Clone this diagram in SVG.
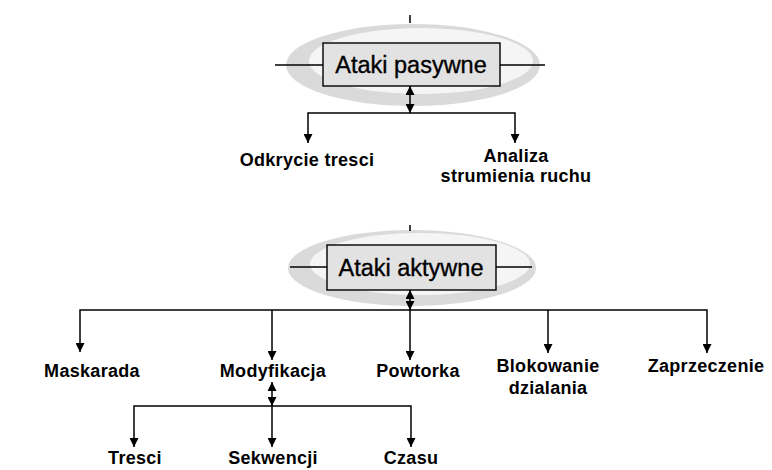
<svg xmlns="http://www.w3.org/2000/svg" width="772" height="470" viewBox="0 0 772 470">
<style>
.ring{fill:#dadada}
.ringin{fill:#f5f5f5}
.box{fill:#e2e2e2;stroke:#000;stroke-width:1.4}
.title{font-family:"Liberation Sans",Arial,sans-serif;font-size:23.5px;fill:#000;stroke:#000;stroke-width:0.35;text-anchor:middle}
.lbl{font-family:"Liberation Sans",Arial,sans-serif;font-size:18px;font-weight:bold;letter-spacing:0.3px;fill:#000;text-anchor:middle}
.ln{stroke:#000;stroke-width:1.5;fill:none}
</style>
<defs>
<marker id="ah" viewBox="0 0 10 10" refX="10" refY="5" markerWidth="10" markerHeight="9" markerUnits="userSpaceOnUse" orient="auto-start-reverse">
<path d="M0,0 L10,5 L0,10 z" fill="#000"/>
</marker>
</defs>
<rect width="772" height="470" fill="#fff"/>
<g id="ataki-pasywne">
<ellipse class="ring" cx="413" cy="65" rx="127" ry="41"/>
<ellipse class="ringin" cx="421" cy="61" rx="112" ry="33"/>
<line class="ln" x1="410" y1="15" x2="410" y2="23"/>
<line class="ln" x1="275" y1="65" x2="323" y2="65"/>
<line class="ln" x1="500" y1="65" x2="545" y2="65"/>
<rect class="box" x="323" y="43" width="177" height="43"/>
<text class="title" x="411" y="73">Ataki pasywne</text>
</g>
<g id="odkrycie">
<text class="lbl" x="307" y="166">Odkrycie tresci</text>
</g>
<g id="analiza">
<text class="lbl" x="516" y="162">Analiza</text>
<text class="lbl" x="516" y="182">strumienia ruchu</text>
</g>
<g id="ataki-aktywne">
<ellipse class="ring" cx="412" cy="268" rx="124" ry="38"/>
<ellipse class="ringin" cx="420" cy="264" rx="110" ry="31"/>
<line class="ln" x1="410" y1="225" x2="410" y2="231"/>
<line class="ln" x1="290" y1="267" x2="327" y2="267"/>
<line class="ln" x1="496" y1="267" x2="532" y2="267"/>
<rect class="box" x="327" y="245" width="169" height="45"/>
<text class="title" x="411" y="276">Ataki aktywne</text>
</g>
<g id="maskarada"><text class="lbl" x="92" y="377">Maskarada</text></g>
<g id="modyfikacja"><text class="lbl" x="273" y="377">Modyfikacja</text></g>
<g id="powtorka"><text class="lbl" x="418" y="377">Powtorka</text></g>
<g id="blokowanie"><text class="lbl" x="548" y="372">Blokowanie</text><text class="lbl" x="548" y="394">dzialania</text></g>
<g id="zaprzeczenie"><text class="lbl" x="706" y="372">Zaprzeczenie</text></g>
<g id="tresci"><text class="lbl" x="135" y="464">Tresci</text></g>
<g id="sekwencji"><text class="lbl" x="273" y="464">Sekwencji</text></g>
<g id="czasu"><text class="lbl" x="411" y="464">Czasu</text></g>
<g id="connectors">
<line class="ln" x1="410" y1="86" x2="410" y2="113" marker-start="url(#ah)" marker-end="url(#ah)"/>
<polyline class="ln" points="308,143 308,113 515,113 515,143" marker-start="url(#ah)" marker-end="url(#ah)"/>
<line class="ln" x1="410" y1="290" x2="410" y2="310" marker-start="url(#ah)" marker-end="url(#ah)"/>
<polyline class="ln" points="80,352 80,310 707,310 707,353" marker-start="url(#ah)" marker-end="url(#ah)"/>
<line class="ln" x1="272" y1="310" x2="272" y2="360" marker-end="url(#ah)"/>
<line class="ln" x1="410" y1="310" x2="410" y2="360" marker-end="url(#ah)"/>
<line class="ln" x1="548" y1="310" x2="548" y2="353" marker-end="url(#ah)"/>
<line class="ln" x1="272" y1="382" x2="272" y2="406" marker-start="url(#ah)" marker-end="url(#ah)"/>
<polyline class="ln" points="134,447 134,406 411,406 411,447" marker-start="url(#ah)" marker-end="url(#ah)"/>
<line class="ln" x1="272" y1="406" x2="272" y2="447" marker-end="url(#ah)"/>
</g>
</svg>
